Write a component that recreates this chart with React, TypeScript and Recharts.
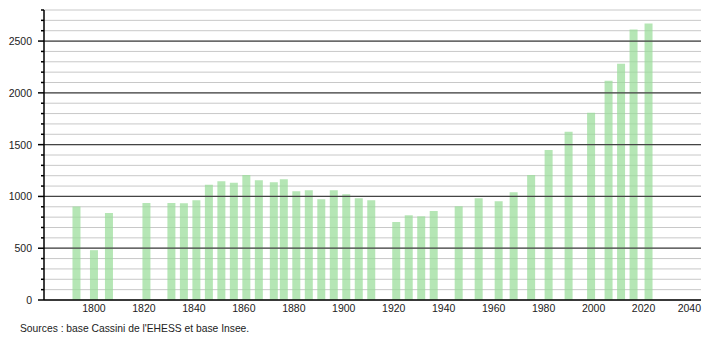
import React from 'react'
import { BarChart, Bar, XAxis, YAxis, CartesianGrid, ReferenceLine } from 'recharts'

// census years and population
const years = [
  1793, 1800, 1806, 1821, 1831, 1836, 1841, 1846, 1851, 1856, 1861, 1866, 1872,
  1876, 1881, 1886, 1891, 1896, 1901, 1906, 1911, 1921, 1926, 1931, 1936, 1946,
  1954, 1962, 1968, 1975, 1982, 1990, 1999, 2006, 2011, 2016, 2022,
]
const population = [
  902, 481, 840, 937, 937, 935, 963, 1112, 1147, 1131, 1206, 1157, 1138,
  1167, 1050, 1060, 973, 1060, 1021, 982, 963, 753, 818, 808, 860, 905,
  982, 953, 1040, 1206, 1448, 1624, 1807, 2117, 2282, 2612, 2670,
]

const xTicks = [1800, 1820, 1840, 1860, 1880, 1900, 1920, 1940, 1960, 1980, 2000, 2020, 2040]
const yTicks = [
  0, 100, 200, 300, 400, 500, 600, 700, 800, 900, 1000, 1100, 1200, 1300, 1400,
  1500, 1600, 1700, 1800, 1900, 2000, 2100, 2200, 2300, 2400, 2500, 2600, 2700, 2800,
]
const majorTicks = [500, 1000, 1500, 2000, 2500]

const data = years.map((year, i) => ({ year, pop: population[i] }))

const font = '"Liberation Sans", Arial, sans-serif'

const YTick = (props: any) => {
  const { x, y, payload } = props
  const major = payload.value % 500 === 0
  return (
    <g>
      <line x1={major ? x - 6 : x - 3} x2={x} y1={y} y2={y} stroke="#000" strokeWidth={1.5} />
      {major && (
        <text x={x - 12} y={y} dy={4} textAnchor="end" fontSize={10.5} fontFamily={font} fill="#222">
          {payload.value}
        </text>
      )}
    </g>
  )
}

const XTick = (props: any) => {
  const { x, y, payload } = props
  const last = payload.value === xTicks[xTicks.length - 1]
  return (
    <text
      x={last ? 701 : x}
      y={y}
      dy={4}
      textAnchor={last ? 'end' : 'middle'}
      fontSize={10.5}
      fontFamily={font}
      fill="#222"
    >
      {payload.value}
    </text>
  )
}

export default function App() {
  return (
    <div style={{ position: 'absolute', left: 0, top: 0, width: 710, height: 340, background: '#fff' }}>
      <BarChart width={710} height={340} data={data} margin={{ top: 10, right: 9, bottom: 0, left: 0 }}>
        <CartesianGrid vertical={false} stroke="#c8c8c8" strokeWidth={1} />
        <XAxis
          dataKey="year"
          type="number"
          domain={[1780, 2043]}
          ticks={xTicks}
          tickLine={false}
          axisLine={{ stroke: '#000', strokeWidth: 1.5 }}
          tick={<XTick />}
          height={40}
          interval={0}
        />
        <YAxis
          type="number"
          domain={[0, 2800]}
          ticks={yTicks}
          width={44}
          tickSize={0}
          tickMargin={0}
          axisLine={{ stroke: '#000', strokeWidth: 1.5 }}
          tick={<YTick />}
          interval={0}
        />
        {majorTicks.map((v) => (
          <ReferenceLine key={v} y={v} stroke="#444" strokeWidth={1.2} />
        ))}
        <Bar dataKey="pop" fill="#99dd99" fillOpacity={0.72} barSize={8} isAnimationActive={false} />
      </BarChart>
      <div
        style={{
          position: 'absolute',
          left: 20,
          top: 323,
          fontSize: 10.3,
          fontFamily: font,
          color: '#222',
          whiteSpace: 'nowrap',
        }}
      >
        Sources : base Cassini de l'EHESS et base Insee.
      </div>
    </div>
  )
}
